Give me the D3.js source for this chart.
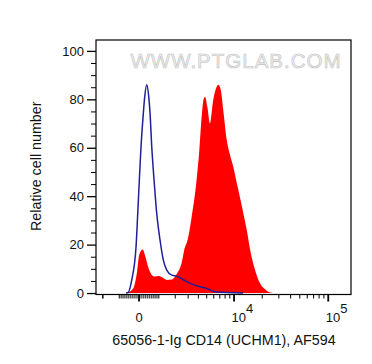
<!DOCTYPE html>
<html><head><meta charset="utf-8">
<script src="https://cdn.jsdelivr.net/npm/d3@7"></script>
<style>body{margin:0;background:#fff;} svg{display:block;font-family:"Liberation Sans",Arial,sans-serif;}</style>
</head><body><svg id="c" width="372" height="364"></svg>
<script>
// Sample (CD14 stained) histogram: fluorescence value, relative cell number
const sampleX = [-608, -278, -112, 15, 180, 293, 457, 628, 799, 975, 1179, 1453, 1768, 2103, 2481, 2673, 2957, 3307, 3780, 4105, 4355, 4592, 4788, 5077, 5447, 5926, 6463, 6734, 7169, 7666, 8365, 9053, 9841, 10690, 11801, 12806, 13888, 14855, 16378, 18960, 21960, 26060];
const sampleY = [0, 2, 8, 16, 18, 15.5, 10.5, 7.5, 6.8, 7, 6.5, 5.4, 5.6, 7.9, 12.8, 17.8, 22, 31, 45.5, 59, 72, 79.8, 81.1, 77, 70, 79.8, 85.2, 86, 84, 75, 63, 57, 52, 45.5, 38, 31.5, 24.7, 18, 11, 4, 1.2, 0];
// Isotype control histogram
const isotypeX = [-643, -527, -357, -146, -63, 15, 97, 210, 278, 377, 477, 542, 628, 747, 888, 1067, 1253, 1453, 1768, 2103, 2600, 3174, 4182, 4989, 6463, 12472];
const isotypeY = [0, 0.3, 5.4, 19.1, 32.9, 46.7, 60.5, 74.3, 81.1, 86, 81.1, 74.3, 60.5, 46.7, 32.9, 21.9, 13.6, 9.5, 7.4, 7.0, 5.5, 4, 2.6, 1.9, 0.4, 0];
// Axes
const yTickValues = [0, 20, 40, 60, 80, 100];
const xMajorTicks = [0, 10000, 100000];
const xTickBases = ["0", "10", "10"];
const xTickExps = ["", "4", "5"];
const xDomain = [-2500, 174000];
const yDomain = [-0.6, 104.5];
const xTitle = "65056-1-Ig CD14 (UCHM1), AF594";
const yTitle = "Relative cell number";
const watermark = "WWW.PTGLAB.COM";

const L = 96, R = 351, T0 = 40, B = 294.5;
const svg = d3.select("#c");

// biexponential-like display transform + D3 linear scale
const tf = v => Math.asinh(v / 2000) / Math.LN10;
const xLin = d3.scaleLinear().domain(xDomain.map(tf)).range([L, R]);
const x = v => xLin(tf(v));
const y = d3.scaleLinear().domain(yDomain).range([B, T0]);

// watermark
svg.append("text").attr("x", 236).attr("y", 67.5)
  .attr("text-anchor", "middle").attr("font-size", 20.5).attr("letter-spacing", 1)
  .attr("fill", "#efefef").attr("stroke", "#c0c0c0").attr("stroke-width", 0.6)
  .text(watermark);

svg.append("defs").append("clipPath").attr("id", "clip")
  .append("rect").attr("x", L).attr("y", T0).attr("width", R - L).attr("height", B - T0);

const sample = sampleX.map((v, i) => ({x: v, y: sampleY[i]}));
const iso = isotypeX.map((v, i) => ({x: v, y: isotypeY[i]}));

const g = svg.append("g").attr("clip-path", "url(#clip)");
g.append("path").datum(sample)
  .attr("d", d3.area().x(d => x(d.x)).y0(y(0)).y1(d => y(d.y)).curve(d3.curveMonotoneX))
  .attr("fill", "#ff0000");
g.append("path").datum(iso)
  .attr("d", d3.line().x(d => x(d.x)).y(d => y(d.y)).curve(d3.curveMonotoneX))
  .attr("fill", "none").attr("stroke", "#1f1f9a").attr("stroke-width", 1.5);

// frame
svg.append("rect").attr("x", L).attr("y", T0).attr("width", R - L).attr("height", B - T0)
  .attr("fill", "none").attr("stroke", "#000").attr("stroke-width", 1.2);

// y axis
const yMinor = d3.range(0, 105, 5).filter(v => v % 20 !== 0);
const yAx = svg.append("g").attr("transform", `translate(${L},0)`)
  .call(d3.axisLeft(y).tickValues(yTickValues).tickSize(9).tickPadding(3).tickFormat(d3.format("d")));
yAx.select(".domain").remove();
yAx.selectAll("text").attr("font-size", 13).attr("font-family", "Liberation Sans, Arial, sans-serif").attr("fill", "#111");
yAx.selectAll("line").attr("stroke-width", 1.3);
const yAx2 = svg.append("g").attr("transform", `translate(${L},0)`)
  .call(d3.axisLeft(y).tickValues(yMinor).tickSize(5).tickFormat(""));
yAx2.select(".domain").remove();

// x axis ticks
const xMinor = [];
[-1000, -100].forEach(s => { for (let k = 1; k <= 9; k++) xMinor.push(k * s); });
xMinor.push(-2000);
[100, 1000, 10000].forEach(s => { for (let k = 1; k <= 9; k++) xMinor.push(k * s); });
const xa = svg.append("g");
xa.selectAll("line.minor").data(xMinor.filter(v => v >= xDomain[0] && v <= xDomain[1] && !xMajorTicks.includes(v)))
  .join("line").attr("x1", d => x(d)).attr("x2", d => x(d)).attr("y1", B).attr("y2", B + 4)
  .attr("stroke", "#000").attr("stroke-width", 1);
xa.selectAll("line.major").data(xMajorTicks).join("line")
  .attr("x1", d => x(d)).attr("x2", d => x(d)).attr("y1", B).attr("y2", B + 7)
  .attr("stroke", "#000").attr("stroke-width", 1.8);
xMajorTicks.forEach((v, i) => {
  const t = svg.append("text").attr("y", 322).attr("font-size", 13).attr("fill", "#111");
  if (xTickExps[i] === "") {
    t.attr("x", x(v)).attr("text-anchor", "middle").text(xTickBases[i]);
  } else {
    t.attr("x", x(v) - 2.5).attr("text-anchor", "start");
    t.append("tspan").text(xTickBases[i]);
    t.append("tspan").attr("dy", -9).text(xTickExps[i]);
  }
});

// titles
svg.append("text").attr("x", 224).attr("y", 345).attr("text-anchor", "middle")
  .attr("font-size", 14.3).attr("fill", "#111").text(xTitle);
svg.append("text").attr("transform", `translate(41,${(T0 + B) / 2 - 1}) rotate(-90)`)
  .attr("text-anchor", "middle").attr("font-size", 14.3).attr("fill", "#111").text(yTitle);
</script></body></html>
